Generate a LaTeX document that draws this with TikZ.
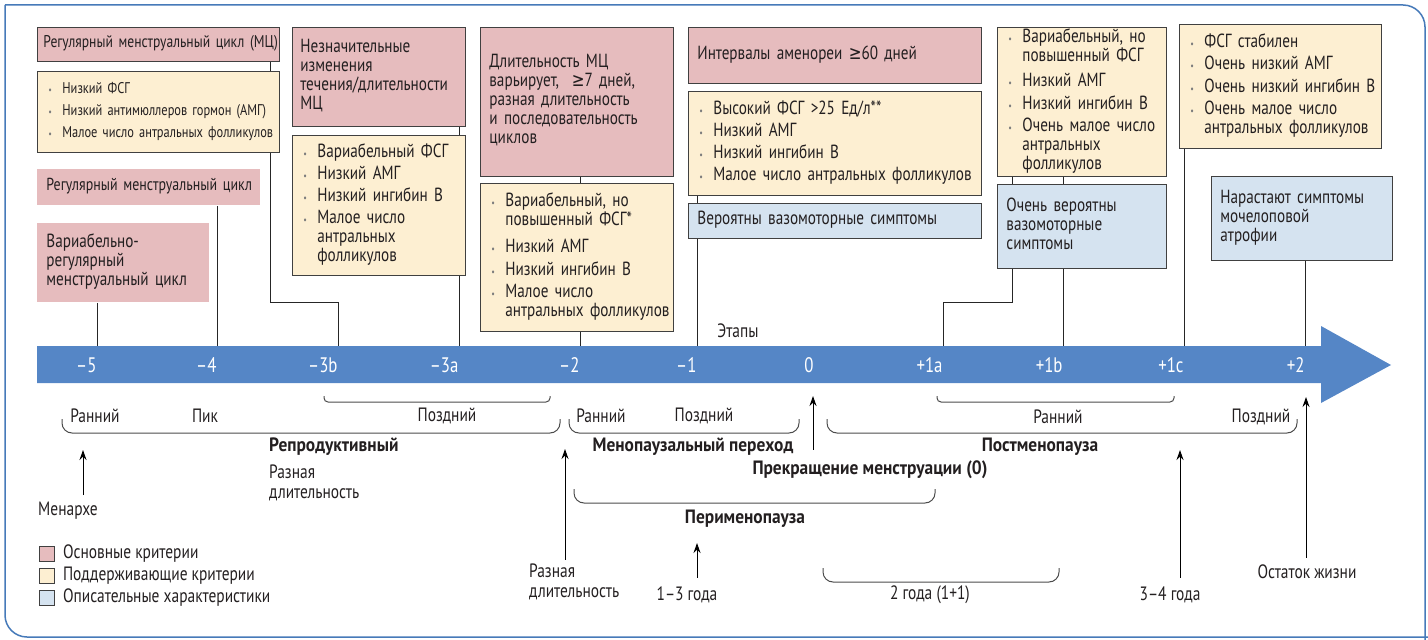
\documentclass[tikz,border=0pt]{standalone}
\usepackage{fontspec}
\setmainfont{PT Sans}[FakeStretch=0.8, BoldFeatures={FakeStretch=0.9}]
\newfontfamily\symfnt{DejaVu Sans}[FakeStretch=0.8]
\usetikzlibrary{positioning, arrows.meta}
\definecolor{critpink}{RGB}{230,188,190}
\definecolor{supcream}{RGB}{253,239,210}
\definecolor{descblue}{RGB}{213,227,240}
\definecolor{axisblue}{RGB}{85,134,198}
\definecolor{frameblue}{RGB}{70,122,185}
\definecolor{inkgray}{RGB}{35,31,32}
\definecolor{bulgray}{RGB}{125,125,125}
\pgfdeclarelayer{bg}
\pgfsetlayers{bg,main}
\tikzset{
    >={Stealth[length=10bp,width=7bp]},
    box/.style={anchor=north west, align=left, inner xsep=9bp, inner ysep=0pt, draw=black!75, line width=0.8bp}, % every criteria box
    crit/.style={box, fill=critpink},
    critplain/.style={box, fill=critpink, draw=none},
    supp/.style={box, fill=supcream, inner xsep=4bp},
    desc/.style={box, fill=descblue},
    conn/.style={draw=black!85, line width=0.7bp},
    brace/.style={draw=black!70, line width=1bp, rounded corners=#1},
    brace/.default=10bp,
    stagelbl/.style={anchor=east, text=white, font=\fontsize{21bp}{22bp}\selectfont},
    note/.style={inner sep=1bp, align=left, font=\fontsize{19.3bp}{20bp}\selectfont},
    phase/.style={note, font=\fontsize{19.3bp}{20bp}\selectfont\bfseries},
    legsq/.style={anchor=north west, draw=black!75, line width=0.8bp, minimum width=15bp, minimum height=15bp, inner sep=0pt},
}
\newcommand{\itm}{\makebox[21bp][l]{\hspace{7bp}{\color{bulgray}\fontsize{10bp}{10bp}\selectfont\textbullet}}}
\newcommand{\ind}{\hspace*{21bp}}
\newcommand{\lns}[1]{\begin{tabular}{@{}l@{}}#1\end{tabular}}
\newcommand{\gq}{{\symfnt ≥}}

\begin{document}
\begin{tikzpicture}[x=1bp, y=-1bp, text=inkgray, font=\fontsize{19bp}{19bp}\selectfont]
        \useasboundingbox (0,0) rectangle (1428,640);
        % Frame
        \draw[frameblue, line width=1.5bp, rounded corners=22bp] (5,5) -- (1425,5) -- (1425,640);
        \draw[frameblue, line width=1.5bp, rounded corners=22bp] (5,5) -- (5,637) -- (1428,637);

        % Stages axis
        \fill[axisblue] (37,346) -- (1321,346) -- (1321,326) -- (1391,365) -- (1321,403) -- (1321,383) -- (37,383) -- cycle;
        \foreach \nm/\x/\lab in {m5/97/--5, m4/217/--4, m3b/338/--3b, m3a/459/--3a, m2/580/--2, m1/697/--1, z0/814/0, p1a/943/+1a, p1b/1063/+1b, p1c/1184/+1c, p2/1305/+2}{
            \coordinate (\nm) at (\x,346);
            \node[stagelbl] (lbl\nm) at (\x+3,365) {\lab};
        }
        \node[note] (stages) at (738,331) {Этапы};

        % Boxes above the axis
        \node[crit, inner xsep=6bp, text width=230bp, minimum height=34bp, font=\fontsize{17bp}{17bp}\selectfont] (reg) at (37,27) {\lns{Регулярный менструальный цикл (МЦ)}};
        \node[supp, text width=234bp, minimum height=81bp, font=\fontsize{15.5bp}{17bp}\selectfont] (regsup) at (37,71) {\lns{\itm Низкий ФСГ\\[5bp] \itm Низкий антимюллеров гормон (АМГ)\\[5bp] \itm Малое число антральных фолликулов}};
        \node[critplain, text width=205bp, minimum height=36bp, font=\fontsize{17.4bp}{17.4bp}\selectfont] (regcyc) at (37,169) {\lns{Регулярный менструальный цикл}};
        \node[critplain, text width=154bp, minimum height=79bp] (varreg) at (37,223) {\lns{Вариабельно-\\регулярный\\менструальный цикл}};
        \node[crit, inner xsep=8bp, text width=157bp, minimum height=99bp] (chg3a) at (292,27) {\lns{Незначительные\\изменения\\течения/длительности\\МЦ}};
        \node[supp, text width=165bp, minimum height=140bp] (sup3a) at (292,135) {\lns{\itm Вариабельный ФСГ\\[3bp] \itm Низкий АМГ\\[3bp] \itm Низкий ингибин В\\[3bp] \itm Малое число\\ \ind антральных\\ \ind фолликулов}};
        \node[crit, text width=175bp, minimum height=149bp] (len2) at (480,27) {\lns{Длительность МЦ\\варьирует, \ \gq7 дней,\\разная длительность\\и последовательность\\циклов}};
        \node[supp, text width=185bp, minimum height=148bp] (sup2) at (480,183) {\lns{\itm Вариабельный, но\\ \ind повышенный ФСГ*\\[8bp] \itm Низкий АМГ\\[3bp] \itm Низкий ингибин В\\[3bp] \itm Малое число\\ \ind антральных фолликулов}};
        \node[crit, text width=275bp, minimum height=56bp] (amen1) at (688,27) {\lns{Интервалы аменореи \gq60 дней}};
        \node[supp, text width=285bp, minimum height=104bp] (sup1) at (688,91) {\lns{\itm Высокий ФСГ >25 Ед/л**\\[3bp] \itm Низкий АМГ\\[3bp] \itm Низкий ингибин В\\[3bp] \itm Малое число антральных фолликулов}};
        \node[desc, text width=275bp, minimum height=35bp] (vaso1) at (688,203) {\lns{Вероятны вазомоторные симптомы}};
        \node[supp, text width=161bp, minimum height=149bp] (sup1ab) at (997,27) {\lns{\itm Вариабельный, но\\ \ind повышенный ФСГ\\[6bp] \itm Низкий АМГ\\[3bp] \itm Низкий ингибин В\\[3bp] \itm Очень малое число\\ \ind антральных\\ \ind фолликулов}};
        \node[desc, text width=151bp, minimum height=84bp] (vaso1ab) at (997,184) {\lns{Очень вероятны\\вазомоторные\\симптомы}};
        \node[supp, text width=194bp, minimum height=124bp] (sup1c) at (1179,24) {\lns{\itm ФСГ стабилен\\[3bp] \itm Очень низкий АМГ\\[3bp] \itm Очень низкий ингибин В\\[3bp] \itm Очень малое число\\ \ind антральных фолликулов}};
        \node[desc, text width=163bp, minimum height=84bp] (atr2) at (1211,176) {\lns{Нарастают симптомы\\мочелоповой\\атрофии}};

        \coordinate (bend3b) at (338,302);
        \coordinate (bend1a) at (943,302);

        % Draw lines
        \begin{pgfonlayer}{bg}
            \draw[conn] ([xshift=-9bp]reg.south east) |- (bend3b) -- (m3b);
            \draw[conn] (regcyc.south -| m4) -- (m4);
            \draw[conn] (varreg.south -| m5) -- (m5);
            \draw[conn] (chg3a.south -| m3a) -- (m3a);
            \draw[conn] (len2.south -| m2) -- (m2);
            \draw[conn] (sup1.south -| m1) -- (m1);
            \draw[conn] ([xshift=15bp]sup1ab.south west) |- (bend1a) -- (p1a);
            \draw[conn] (sup1ab.south -| p1b) -- (p1b);
            \draw[conn] (sup1c.south -| p1c) -- (p1c);
            \draw[conn] (atr2.south -| p2) -- (p2);
        \end{pgfonlayer}

        % Phases below the axis
        \draw[brace=4bp] (324,396) -- (324,402) -- (550,402) -- (550,396);
        \draw[brace=4bp] (937,396) -- (937,402) -- (1174,402) -- (1174,396);
        \draw[brace] (62,419) -- (62,433) -- (560,433) -- (560,419);
        \draw[brace] (569,419) -- (569,433) -- (799,433) -- (799,419);
        \draw[brace] (827,419) -- (827,433) -- (1297,433) -- (1297,419);
        \draw[brace] (574,489) -- (574,503) -- (935,503) -- (935,489);
        \draw[brace] (823,568) -- (823,582) -- (1059,582) -- (1059,568);

        \node[note] (early5) at (95,416) {Ранний};
        \node[note] (peak4) at (205,416) {Пик};
        \node[note] (late3) at (447,416) {Поздний};
        \node[note] (early2) at (601,416) {Ранний};
        \node[note] (late1) at (704,416) {Поздний};
        \node[note] (early1) at (1058,417) {Ранний};
        \node[note] (late2) at (1261,417) {Поздний};
        \node[phase, anchor=west] (reprod) at (268,447) {Репродуктивный};
        \node[note, anchor=west] (reprodlen) at (268,483) {Разная\\длительность};
        \node[phase] (transit) at (693,447) {Менопаузальный переход};
        \node[phase] (postmp) at (1040,447) {Постменопауза};
        \node[phase] (cessation) at (870,470) {Прекращение менструации (0)};
        \node[phase] (perimp) at (745,519) {Перименопауза};

        % Arrows
        \coordinate (menarchetip) at (83,450);
        \coordinate (translentip) at (565,449);
        \coordinate (cesstip) at (813,396);
        \coordinate (perimtip) at (697,543);
        \coordinate (postlentip) at (1180,450);
        \coordinate (resttip) at (1306,397);
        \node[note] (menarche) at (68,511) {Менархе};
        \node[note, anchor=west] (translen) at (528,582) {Разная\\длительность};
        \node[note] (perimlen) at (687,595) {1--3 года};
        \node[note] (twoyears) at (930,595) {2 года (1+1)};
        \node[note] (postlen) at (1170,595) {3--4 года};
        \node[note] (rest) at (1307,572) {Остаток жизни};
        \draw[->, line width=1bp, shorten <=6bp] (menarche.north -| menarchetip) -- (menarchetip);
        \draw[->, line width=1bp, shorten <=3bp] (translen.north -| translentip) -- (translentip);
        \draw[->, line width=1bp, shorten <=10bp] (cessation.north -| cesstip) -- (cesstip);
        \draw[->, line width=1bp, shorten <=8bp] (perimlen.north -| perimtip) -- (perimtip);
        \draw[->, line width=1bp, shorten <=8bp] (postlen.north -| postlentip) -- (postlentip);
        \draw[->, line width=1bp, shorten <=6bp] (rest.north -| resttip) -- (resttip);

        % Legend
        \node[legsq, fill=critpink] (legcrit) at (39,546) {};
        \node[legsq, fill=supcream] (legsupp) at (39,568) {};
        \node[legsq, fill=descblue] (legdesc) at (39,590) {};
        \node[note, right=7bp of legcrit] {Основные критерии};
        \node[note, right=7bp of legsupp] {Поддерживающие критерии};
        \node[note, right=7bp of legdesc] {Описательные характеристики};
\end{tikzpicture}
\end{document}
